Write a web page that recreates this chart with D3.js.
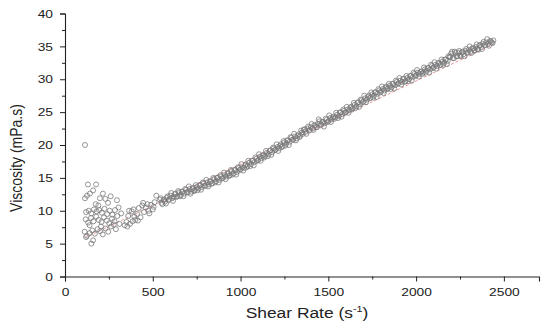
<!DOCTYPE html>
<html>
<head>
<meta charset="utf-8">
<script src="https://cdn.jsdelivr.net/npm/d3@7"></script>
<style>
  html, body { margin: 0; padding: 0; background: #fff; }
  svg { display: block; }
  text { font-family: "Liberation Sans", Arial, sans-serif; fill: #222; }
</style>
</head>
<body>
<svg id="chart" width="541" height="322"></svg>
<script>
// Measured shear rate (1/s) and viscosity (mPa.s)
const shearRate = [
  114,131,177,160,142,125,114,216,199,245,296,
  120,135,150,165,180,195,210,225,240,255,270,285,
  118,132,148,162,178,192,208,222,238,252,268,282,298,
  112,125,140,155,170,186,200,215,230,246,262,278,
  150,160,140,205,190,230,260,175,120,290,310,320,305,
  340,350,360,370,380,390,400,410,420,430,440,450,460,470,480,490,500,510,520,365,395,415,445,475,505,355,385,
  540,550,560,570,580,590,600,610,620,630,640,650,660,670,680,690,700,710,720,730,740,750,760,770,780,790,
  800,810,820,830,840,850,860,870,880,890,900,910,920,930,940,950,960,970,980,990,
  1000,1010,1020,1030,1040,1050,1060,1070,1080,1090,1100,1110,1120,1130,1140,1150,1160,1170,1180,1190,
  1200,1210,1220,1230,1240,1250,1260,1270,1280,1290,1300,1310,1320,1330,1340,1350,1360,1370,1380,1390,
  1400,1410,1420,1430,1440,1450,1460,1470,1480,1490,1500,1510,1520,1530,1540,1550,1560,1570,1580,1590,
  1600,1610,1620,1630,1640,1650,1660,1670,1680,1690,1700,1710,1720,1730,1740,1750,1760,1770,1780,1790,
  1800,1810,1820,1830,1840,1850,1860,1870,1880,1890,1900,1910,1920,1930,1940,1950,1960,1970,1980,1990,
  2000,2010,2020,2030,2040,2050,2060,2070,2080,2090,2100,2110,2120,2130,2140,2150,2160,2170,2180,2190,
  2200,2210,2220,2230,2240,2250,2260,2270,2280,2290,2300,2310,2320,2330,2340,2350,2360,2370,2380,2390,
  2400,2410,2420,2430,2440,
  545,555,565,575,585,595,605,615,625,635,
  645,655,665,675,685,695,705,715,725,735,
  745,755,765,775,785,795,805,815,825,835,
  845,855,865,875,885,895,905,915,925,935,
  945,955,965,975,985,995,1005,1015,1025,1035,
  1045,1055,1065,1075,1085,1095,1105,1115,1125,1135,
  1145,1155,1165,1175,1185,1195,1205,1215,1225,1235,
  1245,1255,1265,1275,1285,1295,1305,1315,1325,1335,
  1345,1355,1365,1375,1385,1395,1405,1415,1425,1435,
  1445,1455,1465,1475,1485,1495,1505,1515,1525,1535,
  1545,1555,1565,1575,1585,1595,1605,1615,1625,1635,
  1645,1655,1665,1675,1685,1695,1705,1715,1725,1735,
  1745,1755,1765,1775,1785,1795,1805,1815,1825,1835,
  1845,1855,1865,1875,1885,1895,1905,1915,1925,1935,
  1945,1955,1965,1975,1985,1995,2005,2015,2025,2035,
  2045,2055,2065,2075,2085,2095,2105,2115,2125,2135,
  2145,2155,2165,2175,2185,2195,2205,2215,2225,2235,
  2245,2255,2265,2275,2285,2295,2305,2315,2325,2335,
  2345,2355,2365,2375,2385,2395,2405,2415,2425,2435
];
const viscosity = [
  20.0,14.0,14.0,13.1,12.6,12.3,11.9,12.6,11.9,11.2,11.6,
  9.8,10.0,9.6,10.2,9.9,10.1,9.7,10.3,9.5,10.0,9.4,10.1,
  8.7,8.2,8.9,8.4,9.1,8.6,8.3,9.0,8.5,8.1,8.8,8.4,9.2,
  6.8,6.2,6.6,7.0,6.5,7.2,6.9,6.4,7.3,6.8,7.6,7.9,
  5.0,5.5,7.8,7.6,10.8,11.8,12.2,11.0,6.0,7.2,8.0,9.6,10.5,
  7.8,8.3,9.2,8.0,9.9,10.2,8.6,9.5,10.4,9.0,10.8,9.8,10.5,11.0,9.6,10.9,10.2,11.3,12.3,10.0,9.1,8.5,11.2,10.0,10.6,7.6,8.4,
  11.7,11.2,11.6,11.4,12.0,11.6,12.3,11.9,12.1,12.6,12.2,12.8,12.4,12.9,12.6,13.2,12.8,13.3,12.9,13.5,13.1,13.6,13.4,13.9,13.6,14.2,
  13.8,14.3,14.0,14.5,14.2,14.8,14.5,15.0,14.7,15.2,15.0,15.4,15.2,15.7,15.4,16.0,15.7,16.2,15.9,16.5,
  16.3,16.6,16.5,17.0,16.8,17.3,17.1,17.6,17.4,17.9,17.7,18.2,18.0,18.5,18.3,18.8,18.6,19.2,18.9,19.5,
  19.3,19.7,19.5,20.1,19.8,20.4,20.2,20.7,20.5,21.1,20.8,21.3,21.0,21.6,21.4,21.9,22.3,22.0,22.5,22.2,
  22.7,22.5,23.0,22.7,23.2,23.6,23.1,23.5,23.3,23.8,23.6,24.1,23.9,24.3,24.2,24.6,24.4,25.0,24.7,25.2,
  25.0,25.4,25.3,25.8,25.6,26.1,25.9,26.5,26.2,26.8,26.6,27.1,26.9,27.5,27.2,27.7,27.5,28.0,27.8,28.3,
  28.1,28.5,28.3,28.9,28.6,29.0,28.8,29.3,29.1,29.6,29.4,29.8,29.6,30.1,29.7,30.2,30.0,30.5,30.3,30.8,
  30.6,31.0,30.8,31.2,31.0,31.5,31.3,31.7,31.5,32.0,31.8,32.2,32.0,32.5,32.2,32.7,32.5,33.0,32.8,33.4,
  33.9,33.2,34.2,33.5,34.0,33.6,34.1,33.8,34.3,34.0,34.5,34.2,34.7,34.4,34.9,34.6,35.1,34.9,35.4,35.2,
  35.6,35.4,35.8,35.6,35.9,
  11.9,11.0,11.7,11.1,12.2,11.8,12.7,11.5,12.5,12.1,
  13.0,12.2,12.9,12.2,13.3,12.8,13.7,12.6,13.3,13.0,
  13.9,13.1,13.9,13.2,14.3,13.8,14.7,13.7,14.4,14.1,
  15.0,14.3,15.0,14.3,15.4,14.9,15.8,14.8,15.6,15.3,
  16.2,15.5,16.2,15.5,16.6,16.2,17.1,16.1,16.9,16.6,
  17.6,16.8,17.6,16.9,18.1,17.6,18.6,17.6,18.4,18.1,
  19.1,18.3,19.1,18.5,19.6,19.2,20.1,19.1,19.9,19.7,
  20.6,19.9,20.7,20.0,21.2,20.8,21.7,20.7,21.4,21.2,
  22.2,21.7,22.4,21.7,22.8,22.3,23.2,22.3,23.0,22.7,
  23.9,23.0,23.5,22.8,24.0,23.5,24.5,23.5,24.2,24.0,
  24.9,24.1,24.9,24.3,25.4,24.9,25.8,24.9,25.7,25.4,
  26.4,25.6,26.4,25.8,26.9,26.5,27.5,26.5,27.3,27.1,
  28.0,27.2,28.0,27.3,28.5,28.0,28.9,27.9,28.7,28.5,
  29.3,28.5,29.3,28.6,29.8,29.3,30.2,29.2,30.0,29.6,
  30.5,29.7,30.5,29.8,31.0,30.5,31.4,30.4,31.1,30.8,
  31.8,31.0,31.7,31.0,32.2,31.7,32.6,31.6,32.4,32.1,
  33.0,32.2,33.0,32.3,33.5,33.4,34.2,33.2,34.0,33.5,
  34.3,33.5,34.2,33.5,34.6,34.1,35.0,34.0,34.7,34.4,
  35.3,34.5,35.2,34.6,35.7,35.2,36.1,35.1,35.8,35.5
];

// Linear fit drawn through the data
const fitShearRate = [114, 2440];
const fitViscosity = [5.9, 35.3];

const xTicks = [0, 500, 1000, 1500, 2000, 2500];
const yTicks = [0, 5, 10, 15, 20, 25, 30, 35, 40];

// all text is drawn slightly widened
const stretch = 1.2;

const svg = d3.select("#chart");

const x = d3.scaleLinear().domain([0, 2700]).range([65, 539]);
const y = d3.scaleLinear().domain([0, 40]).range([276.5, 13.5]);

// fit line (under the markers)
const fitData = fitShearRate.map((v, i) => [v, fitViscosity[i]]);
svg.append("path")
  .datum(fitData)
  .attr("d", d3.line().x(d => x(d[0])).y(d => y(d[1])))
  .attr("fill", "none")
  .attr("stroke", "#e58a8a")
  .attr("stroke-width", 0.9)
  .attr("stroke-dasharray", "3,2");

// markers
const points = shearRate.map((v, i) => [v, viscosity[i]]);
svg.append("g")
  .selectAll("circle")
  .data(points)
  .join("circle")
  .attr("cx", d => x(d[0]))
  .attr("cy", d => y(d[1]))
  .attr("r", 2.5)
  .attr("fill", "none")
  .attr("stroke", "#7a7a7a")
  .attr("stroke-width", 0.8);

// x axis
const xAxis = svg.append("g").attr("transform", `translate(0,${y(0)})`);
xAxis.call(d3.axisBottom(x).tickValues(xTicks).tickFormat(d3.format("d")).tickSize(5).tickPadding(6));
xAxis.append("g").call(d3.axisBottom(x).tickValues(d3.range(250, 2700, 500)).tickFormat("").tickSize(3))
  .select(".domain").remove();

// y axis
const yAxis = svg.append("g").attr("transform", `translate(${x(0)},0)`);
yAxis.call(d3.axisLeft(y).tickValues(yTicks).tickFormat(d3.format("d")).tickSize(5).tickPadding(5));
yAxis.append("g").call(d3.axisLeft(y).tickValues(d3.range(2.5, 40, 5)).tickFormat("").tickSize(3))
  .select(".domain").remove();

svg.selectAll(".domain").attr("stroke", "#222").attr("stroke-width", 1.1);
svg.selectAll(".tick line").attr("stroke", "#222");
svg.selectAll(".tick text")
  .attr("font-family", "'Liberation Sans', Arial, sans-serif")
  .attr("font-size", 11.5)
  .attr("fill", "#222")
  .attr("transform", `scale(${stretch},1)`);

// axis titles
const xt = svg.append("text")
  .attr("transform", `translate(307,318) scale(${stretch},1)`)
  .attr("text-anchor", "middle")
  .attr("font-size", 14.5);
xt.append("tspan").text("Shear Rate (s");
xt.append("tspan").attr("font-size", 9).attr("dy", -6).text("-1");
xt.append("tspan").attr("dy", 6).text(")");

svg.append("text")
  .attr("transform", `translate(22,158) rotate(-90) scale(1,${stretch})`)
  .attr("text-anchor", "middle")
  .attr("font-size", 14)
  .text("Viscosity (mPa.s)");
</script>
</body>
</html>
